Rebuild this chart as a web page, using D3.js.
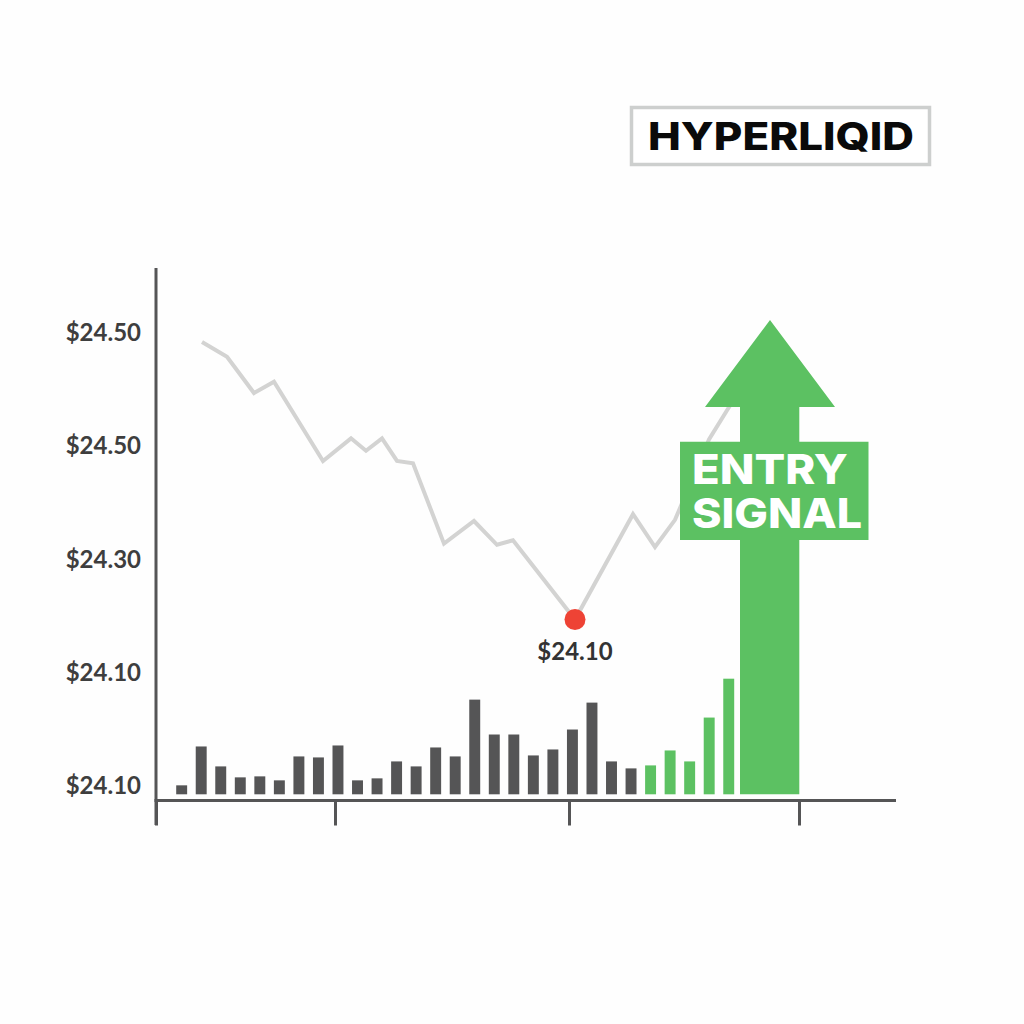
<!DOCTYPE html>
<html>
<head>
<meta charset="utf-8">
<script src="https://cdn.jsdelivr.net/npm/d3@7"></script>
<style>
  html, body { margin: 0; padding: 0; background: #fefefe; }
  svg { display: block; }
  text { font-family: Inter, "Open Sans", sans-serif; }
</style>
</head>
<body>
<svg id="chart" width="1024" height="1024"></svg>
<script>
// price axis: the picture prints these labels, evenly spaced
const priceLevels = [0, 1, 2, 3, 4]
const priceLabels = ["$24.10", "$24.10", "$24.30", "$24.50", "$24.50"]

// grey price line, time in chart units and price in axis levels
const lineTimes = [46, 71, 98, 118, 167, 195, 210, 226, 241, 257, 288, 318, 341, 357, 419, 477, 499, 519, 553, 574]
const lineLevels = [3.92, 3.79, 3.47, 3.57, 2.87, 3.07, 2.96, 3.07, 2.87, 2.85, 2.14, 2.34, 2.13, 2.17, 1.47, 2.40, 2.11, 2.35, 3.06, 3.36]

// volume bars
const volumes = [9, 48, 28, 17, 18, 14, 38, 37, 49, 14, 16, 33, 28, 47, 38, 95, 60, 60, 39, 45, 65, 92, 33, 26, 29, 44, 33, 77, 116]
const firstGreenBar = 24

const timeTicks = [0, 179, 413, 643]
const lowTime = 419, lowLevel = 1.47, lowLabel = "$24.10"

const svg = d3.select("#chart")
const grey = "#555556", green = "#5cc162"

const x = d3.scaleLinear().domain([0, 740]).range([156, 896])
const y = d3.scaleLinear().domain([0, 4]).range([786, 333])
const barX = d3.scaleBand().domain(d3.range(volumes.length)).range([171.9, 738.5]).paddingInner(0.44).paddingOuter(0.22)
const barY = d3.scaleLinear().domain([0, 116]).range([794.3, 678.7])

// bars
svg.append("g").selectAll("rect")
  .data(volumes)
  .join("rect")
  .attr("x", (d, i) => barX(i))
  .attr("y", d => barY(d))
  .attr("width", barX.bandwidth())
  .attr("height", d => barY(0) - barY(d))
  .attr("fill", (d, i) => i >= firstGreenBar ? green : grey)

// price line
const line = d3.line().x(d => x(d[0])).y(d => y(d[1]))
svg.append("path")
  .attr("d", line(d3.zip(lineTimes, lineLevels)))
  .attr("fill", "none")
  .attr("stroke", "#d3d3d2")
  .attr("stroke-width", 4)

// arrow
svg.append("path")
  .attr("d", "M770,320 L835,407 L799.3,407 L799.3,441.7 L868.5,441.7 L868.5,540 L799.3,540 L799.3,794.3 L740,794.3 L740,540 L680,540 L680,441.7 L740,441.7 L740,407 L705,407 Z")
  .attr("fill", green)

svg.append("text").text("ENTRY")
  .attr("x", 692).attr("y", 484)
  .attr("font-size", 41).attr("font-weight", 850).attr("fill", "#fff")
  .attr("textLength", 156).attr("lengthAdjust", "spacingAndGlyphs")
svg.append("text").text("SIGNAL")
  .attr("x", 692).attr("y", 527.5)
  .attr("font-size", 41).attr("font-weight", 850).attr("fill", "#fff")
  .attr("textLength", 170).attr("lengthAdjust", "spacingAndGlyphs")

// axes
const yAxis = d3.axisLeft(y).tickValues(priceLevels).tickSize(0).tickPadding(15)
  .tickFormat((d, i) => priceLabels[i])
const xAxis = d3.axisBottom(x).tickValues(timeTicks).tickSize(25).tickFormat("")

const yg = svg.append("g").attr("transform", "translate(156,0)").call(yAxis)
yg.select(".domain").remove()
yg.selectAll("text").attr("font-size", 24).attr("font-weight", 700).attr("fill", "#3e3e3e")
  .style("font-family", "Lato, sans-serif")

const xg = svg.append("g").attr("transform", "translate(0,800.5)").call(xAxis)
xg.select(".domain").remove()
xg.selectAll("line").attr("stroke", grey).attr("stroke-width", 3)

svg.append("line").attr("x1", 154.5).attr("x2", 896).attr("y1", 800.5).attr("y2", 800.5)
  .attr("stroke", grey).attr("stroke-width", 3)
svg.append("line").attr("x1", 156).attr("x2", 156).attr("y1", 268).attr("y2", 825)
  .attr("stroke", grey).attr("stroke-width", 3)

// low point
svg.append("circle")
  .attr("cx", x(lowTime)).attr("cy", y(lowLevel)).attr("r", 10.5)
  .attr("fill", "#ee4335")
svg.append("text").text(lowLabel)
  .attr("x", x(lowTime)).attr("y", 659.5)
  .attr("text-anchor", "middle")
  .attr("font-size", 24).attr("font-weight", 700).attr("fill", "#333")
  .style("font-family", "Lato, sans-serif")

// logo box
svg.append("rect")
  .attr("x", 631.5).attr("y", 107.5).attr("width", 298).attr("height", 57)
  .attr("fill", "#fff").attr("stroke", "#cdcfce").attr("stroke-width", 3.5)
svg.append("text").text("HYPERLIQID")
  .attr("x", 648).attr("y", 150)
  .attr("font-size", 38).attr("font-weight", 800).attr("fill", "#0a0a0a")
  .attr("textLength", 266).attr("lengthAdjust", "spacingAndGlyphs")
</script>
</body>
</html>
